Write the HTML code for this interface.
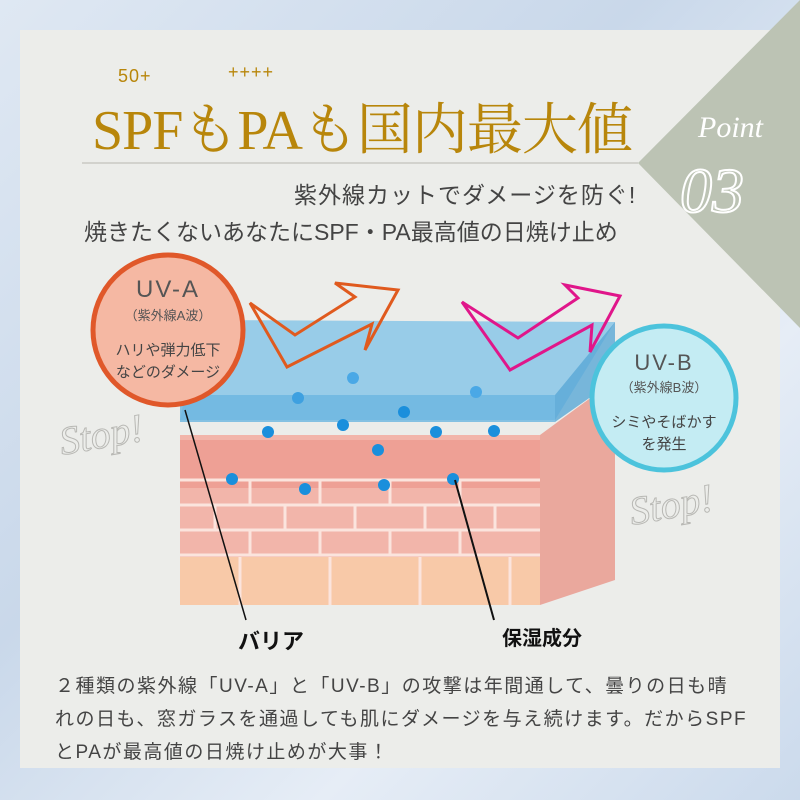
<!DOCTYPE html>
<html><head><meta charset="utf-8">
<style>
body{margin:0;width:800px;height:800px;overflow:hidden;font-family:"Liberation Sans","Noto Sans CJK JP",sans-serif;}
#bg{position:absolute;left:0;top:0;width:800px;height:800px;background:linear-gradient(135deg,#dfe8f3,#c9d8ea 40%,#e6edf6 70%,#cbdaec);}
#panel{position:absolute;left:20px;top:30px;width:760px;height:738px;background:#ecedea;}
.t{position:absolute;white-space:nowrap;}
</style></head><body>
<div id="bg"></div>
<div id="panel"></div>
<svg width="800" height="800" style="position:absolute;left:0;top:0">
<polygon points="800,0 638,163 800,328" fill="#bcc3b4"/>
<line x1="82" y1="163" x2="638" y2="163" stroke="#c9c9c3" stroke-width="1.5"/>
<text x="698" y="137" font-family="Liberation Serif,serif" font-style="italic" font-size="30" fill="#fff">Point</text>
<text x="680" y="212" font-family="Liberation Serif,serif" font-style="italic" font-size="64" fill="none" stroke="#fff" stroke-width="2">03</text>
<rect x="180" y="435" width="360" height="170" fill="#f2b5aa"/>
<rect x="180" y="440" width="360" height="48" fill="#eea095"/>
<g stroke="#fbe4dd" stroke-width="3" fill="none">
<line x1="180" y1="480" x2="540" y2="480"/><line x1="180" y1="505" x2="540" y2="505"/>
<line x1="180" y1="530" x2="540" y2="530"/><line x1="180" y1="555" x2="540" y2="555"/>
<line x1="250" y1="480" x2="250" y2="505"/><line x1="320" y1="480" x2="320" y2="505"/><line x1="390" y1="480" x2="390" y2="505"/><line x1="460" y1="480" x2="460" y2="505"/>
<line x1="215" y1="505" x2="215" y2="530"/><line x1="285" y1="505" x2="285" y2="530"/><line x1="355" y1="505" x2="355" y2="530"/><line x1="425" y1="505" x2="425" y2="530"/><line x1="495" y1="505" x2="495" y2="530"/>
<line x1="250" y1="530" x2="250" y2="555"/><line x1="320" y1="530" x2="320" y2="555"/><line x1="390" y1="530" x2="390" y2="555"/><line x1="460" y1="530" x2="460" y2="555"/>
</g>
<rect x="180" y="557" width="360" height="48" fill="#f8c9a8"/>
<g stroke="#fbe4dd" stroke-width="3"><line x1="240" y1="557" x2="240" y2="605"/><line x1="330" y1="557" x2="330" y2="605"/><line x1="420" y1="557" x2="420" y2="605"/><line x1="510" y1="557" x2="510" y2="605"/></g>
<polygon points="540,435 615,380 615,580 540,605" fill="#eaa89d"/>
<polygon points="200,320 615,322 555,420 180,420" fill="#8fc8e8" opacity="0.9"/>
<polygon points="180,395 555,395 555,422 180,422" fill="#6cb5e0" opacity="0.8"/>
<polygon points="555,395 615,322 615,380 555,422" fill="#5aa7d6" opacity="0.8"/>
<polygon points="250,303 295,335 355,297 335,283 398,290 365,350 372,324 287,367" fill="none" stroke="#e05a1e" stroke-width="3" stroke-linejoin="miter"/>
<polygon points="462,302 518,338 578,298 565,285 620,296 590,352 592,325 510,370" fill="none" stroke="#e0168a" stroke-width="3"/>
<g fill="#1a8fdc">
<circle cx="353" cy="378" r="6" fill="#4aa8e6"/><circle cx="298" cy="398" r="6" fill="#3ea0e0"/><circle cx="476" cy="392" r="6" fill="#4aa8e6"/>
<circle cx="404" cy="412" r="6"/><circle cx="343" cy="425" r="6"/><circle cx="268" cy="432" r="6"/><circle cx="436" cy="432" r="6"/><circle cx="494" cy="431" r="6"/>
<circle cx="378" cy="450" r="6"/><circle cx="232" cy="479" r="6"/><circle cx="305" cy="489" r="6"/><circle cx="384" cy="485" r="6"/><circle cx="453" cy="479" r="6"/>
</g>
<line x1="185" y1="410" x2="246" y2="620" stroke="#111" stroke-width="1.5"/>
<line x1="455" y1="480" x2="494" y2="620" stroke="#111" stroke-width="2"/>
<text x="62" y="455" font-family="Liberation Serif,serif" font-style="italic" font-size="40" fill="none" stroke="#b8b8b4" stroke-width="1" transform="rotate(-10 62 455)">Stop!</text>
<text x="632" y="525" font-family="Liberation Serif,serif" font-style="italic" font-size="40" fill="none" stroke="#b8b8b4" stroke-width="1" transform="rotate(-10 632 525)">Stop!</text>
<circle cx="168" cy="330" r="75" fill="#f5b8a3" stroke="#e0582a" stroke-width="5"/>
<circle cx="664" cy="398" r="72" fill="#c4ecf3" stroke="#4cc3dc" stroke-width="5"/>
</svg>
<div class="t" style="left:118px;top:66px;font-size:18px;color:#b8860b;letter-spacing:1px">50+</div>
<div class="t" style="left:228px;top:62px;font-size:18px;color:#b8860b;letter-spacing:1px">++++</div>
<div class="t" style="left:92px;top:86px;font-size:56px;color:#b8860b;font-family:'Liberation Serif','Noto Serif CJK SC',serif;letter-spacing:-1px">SPFもPAも国内最大値</div>
<div class="t" style="left:294px;top:176px;font-size:23px;color:#444;letter-spacing:1px">紫外線カットでダメージを防ぐ!</div>
<div class="t" style="left:84px;top:213px;font-size:23px;color:#444">焼きたくないあなたにSPF・PA最高値の日焼け止め</div>
<div class="t" style="left:93px;top:276px;width:150px;text-align:center;font-size:24px;color:#555;letter-spacing:2px">UV-A</div>
<div class="t" style="left:93px;top:305px;width:150px;text-align:center;font-size:13px;color:#555">（紫外線A波）</div>
<div class="t" style="left:93px;top:340px;width:150px;text-align:center;font-size:15px;color:#444;line-height:22px">ハリや弾力低下<br>などのダメージ</div>
<div class="t" style="left:592px;top:350px;width:144px;text-align:center;font-size:22px;color:#555;letter-spacing:2px">UV-B</div>
<div class="t" style="left:592px;top:377px;width:144px;text-align:center;font-size:13px;color:#555">（紫外線B波）</div>
<div class="t" style="left:592px;top:412px;width:144px;text-align:center;font-size:15px;color:#444;line-height:22px">シミやそばかす<br>を発生</div>
<div class="t" style="left:238px;top:624px;font-size:22px;color:#111;font-weight:bold">バリア</div>
<div class="t" style="left:502px;top:622px;font-size:20px;color:#111;font-weight:bold">保湿成分</div>
<div class="t" style="left:55px;top:670px;font-size:19px;color:#444;line-height:33px;letter-spacing:1.5px">２種類の紫外線「UV-A」と「UV-B」の攻撃は年間通して、曇りの日も晴<br>れの日も、窓ガラスを通過しても肌にダメージを与え続けます。だからSPF<br>とPAが最高値の日焼け止めが大事！</div>
</body></html>
